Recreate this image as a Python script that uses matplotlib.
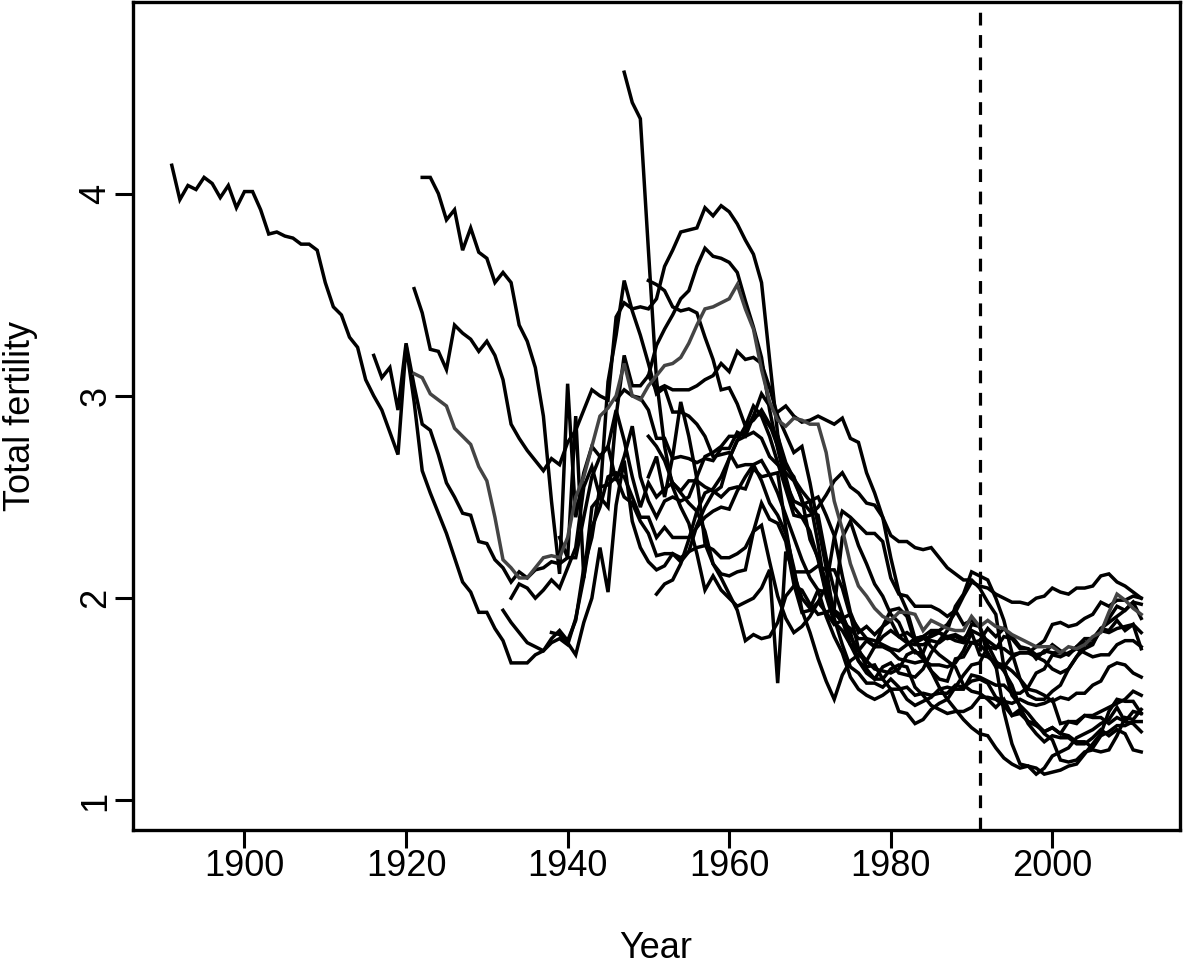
import numpy as np
import matplotlib
matplotlib.use("Agg")
import matplotlib.pyplot as plt

plt.rcParams['font.family'] = ['Liberation Sans', 'DejaVu Sans']

# total fertility, one list per country, annual values from its start year
sweden_start = 1891
sweden = [4.14, 3.97, 4.04, 4.02, 4.08, 4.05, 3.98, 4.04, 3.93, 4.01,
          4.01, 3.92, 3.80, 3.81, 3.79, 3.78, 3.75, 3.75, 3.72, 3.56,
          3.44, 3.40, 3.29, 3.24, 3.08, 3.00, 2.93, 2.82, 2.71, 3.25,
          2.97, 2.63, 2.52, 2.42, 2.32, 2.20, 2.08, 2.03, 1.93, 1.93,
          1.85, 1.79, 1.68, 1.68, 1.68, 1.72, 1.74, 1.80, 1.84, 1.79,
          1.89, 2.15, 2.30, 2.55, 2.56, 2.60, 2.50, 2.47, 2.38, 2.32,
          2.21, 2.22, 2.22, 2.18, 2.23, 2.25, 2.26, 2.24, 2.20, 2.20,
          2.22, 2.25, 2.33, 2.47, 2.39, 2.37, 2.28, 2.07, 1.93, 1.94,
          1.98, 1.93, 1.87, 1.89, 1.77, 1.69, 1.65, 1.60, 1.66, 1.68,
          1.63, 1.62, 1.61, 1.65, 1.73, 1.79, 1.84, 1.96, 2.02, 2.13,
          2.11, 2.09, 2.00, 1.89, 1.73, 1.60, 1.52, 1.50, 1.50, 1.54,
          1.57, 1.65, 1.71, 1.75, 1.77, 1.85, 1.88, 1.91, 1.94, 1.98, 1.90]

denmark_start = 1916
denmark = [3.20, 3.09, 3.14, 2.93, 3.26,
           3.05, 2.86, 2.83, 2.71, 2.57, 2.50, 2.42, 2.41, 2.28, 2.27,
           2.19, 2.15, 2.08, 2.13, 2.10, 2.14, 2.15, 2.18, 2.17, 2.20,
           2.20, 2.40, 2.60, 2.70, 2.75, 2.93, 2.78, 2.60, 2.45, 2.57,
           2.50, 2.54, 2.57, 2.53, 2.58, 2.58, 2.55, 2.53, 2.50, 2.54,
           2.55, 2.54, 2.64, 2.60, 2.61, 2.62, 2.35, 2.12, 2.00, 1.95,
           2.04, 2.03, 1.92, 1.90, 1.92, 1.75, 1.66, 1.67, 1.60, 1.55,
           1.44, 1.43, 1.38, 1.40, 1.45, 1.48, 1.50, 1.56, 1.62, 1.67,
           1.68, 1.76, 1.75, 1.81, 1.80, 1.75, 1.75, 1.72, 1.73, 1.77,
           1.74, 1.72, 1.76, 1.78, 1.80, 1.85, 1.84, 1.89, 1.84, 1.87, 1.75]

canada_start = 1921
canada = [3.53, 3.41, 3.23, 3.22, 3.13, 3.35, 3.31, 3.28, 3.22, 3.27,
          3.20, 3.08, 2.86, 2.79, 2.73, 2.68, 2.63, 2.69, 2.66, 2.77,
          2.83, 2.93, 3.03, 3.00, 2.98, 3.39, 3.46, 3.43, 3.44, 3.43,
          3.48, 3.64, 3.72, 3.81, 3.82, 3.83, 3.93, 3.89, 3.94, 3.91,
          3.85, 3.77, 3.70, 3.56, 3.18, 2.81, 2.60, 2.45, 2.40, 2.33,
          2.19, 2.02, 1.93, 1.88, 1.85, 1.80, 1.80, 1.76, 1.76, 1.74,
          1.70, 1.69, 1.68, 1.69, 1.67, 1.67, 1.66, 1.68, 1.74, 1.83,
          1.72, 1.71, 1.68, 1.67, 1.64, 1.60, 1.55, 1.54, 1.52, 1.49,
          1.51, 1.50, 1.53, 1.53, 1.57, 1.59, 1.66, 1.68, 1.67, 1.63, 1.61]

australia_start = 1921
australia = [3.11, 3.09, 3.01, 2.98, 2.95, 2.84, 2.80, 2.76, 2.65, 2.58,
             2.40, 2.19, 2.15, 2.10, 2.10, 2.15, 2.20, 2.21, 2.20, 2.30,
             2.50, 2.60, 2.75, 2.90, 2.94, 3.00, 3.16, 3.00, 2.98, 3.05,
             3.10, 3.15, 3.16, 3.19, 3.26, 3.35, 3.43, 3.44, 3.46, 3.48,
             3.55, 3.43, 3.33, 3.13, 2.97, 2.88, 2.85, 2.89, 2.88, 2.86,
             2.86, 2.72, 2.48, 2.34, 2.17, 2.06, 2.01, 1.95, 1.91, 1.89,
             1.93, 1.93, 1.92, 1.84, 1.89, 1.87, 1.85, 1.84, 1.84, 1.91,
             1.86, 1.89, 1.86, 1.85, 1.82, 1.80, 1.78, 1.76, 1.76, 1.76,
             1.73, 1.76, 1.75, 1.77, 1.81, 1.83, 1.93, 2.02, 1.99, 1.95, 1.92]

spain_start = 1922
spain = [4.08, 4.08, 4.00, 3.87, 3.92, 3.72, 3.83, 3.71, 3.68,
         3.56, 3.61, 3.56, 3.35, 3.27, 3.14, 2.90, 2.48, 2.12, 3.06,
         2.40, 2.62, 2.75, 2.70, 2.75, 2.58, 2.70, 2.85, 2.60, 2.48,
         2.40, 2.48, 2.50, 2.48, 2.50, 2.60, 2.70, 2.72, 2.75, 2.80,
         2.80, 2.82, 2.90, 3.01, 2.95, 2.92, 2.95, 2.90, 2.87, 2.88,
         2.90, 2.88, 2.86, 2.89, 2.79, 2.77, 2.62, 2.52, 2.40, 2.20,
         2.03, 1.94, 1.80, 1.72, 1.64, 1.56, 1.50, 1.45, 1.40, 1.36,
         1.33, 1.32, 1.26, 1.21, 1.18, 1.16, 1.17, 1.13, 1.16, 1.22,
         1.24, 1.26, 1.31, 1.33, 1.35, 1.38, 1.40, 1.46, 1.39, 1.38, 1.34]

switzerland_start = 1932
switzerland = [1.94, 1.88, 1.83, 1.78, 1.76, 1.74, 1.78, 1.80, 1.77,
               1.90, 2.10, 2.35, 2.45, 2.60, 2.62, 2.60, 2.50, 2.40, 2.40,
               2.30, 2.35, 2.30, 2.30, 2.30, 2.35, 2.40, 2.43, 2.45, 2.44,
               2.53, 2.60, 2.66, 2.68, 2.61, 2.52, 2.41, 2.30, 2.19, 2.10,
               2.04, 1.91, 1.81, 1.73, 1.61, 1.55, 1.52, 1.50, 1.52, 1.55,
               1.55, 1.56, 1.52, 1.53, 1.52, 1.53, 1.53, 1.57, 1.56, 1.59,
               1.60, 1.58, 1.51, 1.49, 1.48, 1.50, 1.48, 1.47, 1.48, 1.50,
               1.38, 1.39, 1.39, 1.42, 1.42, 1.44, 1.46, 1.48, 1.50, 1.54, 1.52]

usa_start = 1933
usa = [2.00, 2.07, 2.05, 2.00, 2.04, 2.09, 2.05, 2.15,
       2.25, 2.55, 2.65, 2.50, 2.45, 2.90, 3.20, 3.05, 3.05, 3.10,
       3.25, 3.33, 3.40, 3.48, 3.52, 3.64, 3.73, 3.69, 3.68, 3.66,
       3.61, 3.47, 3.34, 3.19, 2.93, 2.74, 2.57, 2.48, 2.46, 2.48,
       2.27, 2.01, 1.88, 1.84, 1.77, 1.74, 1.79, 1.76, 1.81, 1.84,
       1.81, 1.83, 1.80, 1.81, 1.84, 1.84, 1.87, 1.93, 2.01, 2.08,
       2.06, 2.05, 2.02, 2.00, 1.98, 1.98, 1.97, 2.00, 2.01, 2.05,
       2.03, 2.02, 2.05, 2.05, 2.06, 2.11, 2.12, 2.08, 2.06, 2.03, 2.00]

england_start = 1938
england = [1.83, 1.82, 1.78,
           1.72, 1.88, 2.00, 2.25, 2.03, 2.46, 2.68, 2.38, 2.25, 2.18,
           2.14, 2.16, 2.22, 2.20, 2.23, 2.36, 2.45, 2.52, 2.55, 2.69,
           2.78, 2.85, 2.88, 2.93, 2.86, 2.75, 2.65, 2.60, 2.48, 2.43,
           2.41, 2.20, 2.04, 1.92, 1.81, 1.74, 1.69, 1.76, 1.86, 1.89,
           1.81, 1.78, 1.77, 1.77, 1.79, 1.78, 1.81, 1.82, 1.80, 1.84,
           1.82, 1.79, 1.76, 1.75, 1.72, 1.73, 1.73, 1.71, 1.69, 1.65,
           1.63, 1.65, 1.71, 1.77, 1.78, 1.84, 1.90, 1.96, 1.94, 1.98, 1.97]

finland_start = 1939
finland = [2.30, 2.20,
           2.90, 2.10, 2.45, 2.50, 3.07, 3.30, 3.57, 3.42, 3.30, 3.16,
           3.01, 3.04, 2.92, 2.92, 2.90, 2.86, 2.80, 2.70, 2.71, 2.72,
           2.65, 2.66, 2.66, 2.58, 2.47, 2.41, 2.32, 2.15, 1.94, 1.83,
           1.70, 1.59, 1.50, 1.62, 1.69, 1.72, 1.69, 1.65, 1.64, 1.63,
           1.65, 1.72, 1.74, 1.70, 1.64, 1.60, 1.59, 1.70, 1.71, 1.78,
           1.79, 1.85, 1.81, 1.85, 1.81, 1.76, 1.75, 1.70, 1.74, 1.73,
           1.73, 1.72, 1.76, 1.80, 1.80, 1.84, 1.83, 1.85, 1.86, 1.87, 1.83]

france_start = 1946
france = [2.98, 3.03, 3.00, 2.99, 2.93,
          2.79, 2.79, 2.69, 2.70, 2.69, 2.67, 2.69, 2.68, 2.74, 2.74,
          2.82, 2.80, 2.90, 2.91, 2.85, 2.80, 2.67, 2.59, 2.53, 2.48,
          2.50, 2.41, 2.31, 2.11, 1.93, 1.83, 1.86, 1.82, 1.86, 1.94,
          1.95, 1.91, 1.78, 1.80, 1.81, 1.83, 1.80, 1.81, 1.79, 1.78,
          1.77, 1.73, 1.66, 1.66, 1.71, 1.73, 1.73, 1.76, 1.79, 1.87,
          1.88, 1.86, 1.87, 1.90, 1.92, 1.98, 1.96, 1.99, 1.99, 2.01, 2.00]

japan_start = 1947
japan = [4.60, 4.45, 4.37, 3.72,
         3.08, 2.75, 2.55, 2.45, 2.37, 2.22, 2.04, 2.11, 2.04, 2.00,
         1.96, 1.98, 2.00, 2.05, 2.14, 1.58, 2.23, 2.13, 2.13, 2.13,
         2.16, 2.14, 2.14, 2.05, 1.91, 1.85, 1.80, 1.79, 1.77, 1.75,
         1.74, 1.77, 1.80, 1.81, 1.76, 1.72, 1.69, 1.66, 1.57, 1.54,
         1.53, 1.50, 1.46, 1.50, 1.42, 1.43, 1.39, 1.38, 1.34, 1.36,
         1.33, 1.32, 1.29, 1.29, 1.26, 1.32, 1.34, 1.37, 1.37, 1.39, 1.39]

netherlands_start = 1950
netherlands = [3.10,
               3.03, 3.05, 3.03, 3.03, 3.03, 3.05, 3.08, 3.10, 3.16, 3.12,
               3.22, 3.18, 3.19, 3.16, 3.04, 2.90, 2.81, 2.72, 2.75, 2.57,
               2.36, 2.15, 1.90, 1.77, 1.66, 1.63, 1.58, 1.58, 1.56, 1.60,
               1.56, 1.50, 1.47, 1.49, 1.51, 1.55, 1.56, 1.55, 1.55, 1.62,
               1.61, 1.59, 1.57, 1.57, 1.53, 1.53, 1.56, 1.63, 1.65, 1.72,
               1.71, 1.73, 1.75, 1.73, 1.71, 1.72, 1.72, 1.77, 1.79, 1.79, 1.76]

czech_start = 1950
czech = [2.80,
         2.75, 2.68, 2.57, 2.52, 2.47, 2.43, 2.33, 2.17, 2.12, 2.11,
         2.13, 2.14, 2.33, 2.36, 2.18, 2.01, 1.90, 1.83, 1.86, 1.91,
         1.98, 2.06, 2.30, 2.43, 2.40, 2.36, 2.32, 2.32, 2.28, 2.10,
         2.02, 2.01, 1.96, 1.96, 1.96, 1.94, 1.91, 1.94, 1.87, 1.89,
         1.86, 1.72, 1.67, 1.44, 1.28, 1.18, 1.17, 1.16, 1.13, 1.14,
         1.15, 1.17, 1.18, 1.23, 1.28, 1.33, 1.44, 1.50, 1.49, 1.49, 1.43]

hungary_start = 1950
hungary = [2.60,
           2.70, 2.50, 2.70, 2.97, 2.80, 2.59, 2.27, 2.17, 2.10, 2.02,
           1.94, 1.79, 1.82, 1.80, 1.81, 1.88, 2.01, 2.06, 2.04, 1.97,
           1.92, 1.93, 1.95, 2.30, 2.38, 2.26, 2.17, 2.07, 2.01, 1.92,
           1.88, 1.79, 1.73, 1.73, 1.83, 1.83, 1.81, 1.79, 1.78, 1.87,
           1.86, 1.77, 1.69, 1.64, 1.57, 1.46, 1.38, 1.33, 1.29, 1.32,
           1.31, 1.31, 1.28, 1.28, 1.31, 1.35, 1.32, 1.35, 1.33, 1.25, 1.24]

austria_start = 1951
austria = [2.02, 2.07, 2.09, 2.17, 2.29, 2.43, 2.52, 2.54, 2.60, 2.69,
           2.78, 2.80, 2.82, 2.79, 2.70, 2.66, 2.62, 2.58, 2.49, 2.29,
           2.20, 2.08, 1.94, 1.91, 1.83, 1.69, 1.63, 1.60, 1.60, 1.65,
           1.67, 1.66, 1.56, 1.52, 1.47, 1.45, 1.43, 1.44, 1.44, 1.46,
           1.51, 1.51, 1.50, 1.47, 1.42, 1.45, 1.39, 1.37, 1.34, 1.36,
           1.33, 1.39, 1.38, 1.42, 1.41, 1.41, 1.38, 1.41, 1.39, 1.44, 1.43]

slovakia_start = 1950
slovakia = [3.57,
            3.55, 3.52, 3.44, 3.42, 3.43, 3.41, 3.29, 3.18, 3.03, 3.04,
            2.96, 2.85, 2.95, 2.90, 2.80, 2.67, 2.54, 2.41, 2.40, 2.41,
            2.45, 2.51, 2.58, 2.62, 2.55, 2.52, 2.47, 2.46, 2.40, 2.31,
            2.28, 2.28, 2.25, 2.24, 2.25, 2.20, 2.15, 2.12, 2.09, 2.09,
            2.05, 1.98, 1.92, 1.66, 1.52, 1.47, 1.43, 1.38, 1.33, 1.30,
            1.20, 1.19, 1.20, 1.24, 1.25, 1.24, 1.25, 1.32, 1.41, 1.40, 1.45]

jump_off = 1991

series = [
    (sweden_start, sweden, 'black'),
    (denmark_start, denmark, 'black'),
    (canada_start, canada, 'black'),
    (spain_start, spain, 'black'),
    (switzerland_start, switzerland, 'black'),
    (usa_start, usa, 'black'),
    (england_start, england, 'black'),
    (finland_start, finland, 'black'),
    (france_start, france, 'black'),
    (japan_start, japan, 'black'),
    (netherlands_start, netherlands, 'black'),
    (czech_start, czech, 'black'),
    (hungary_start, hungary, 'black'),
    (austria_start, austria, 'black'),
    (slovakia_start, slovakia, 'black'),
    (australia_start, australia, '#444444'),
]

fig = plt.figure(figsize=(11.83, 9.65), dpi=100)
ax = fig.add_axes([133 / 1183, 1 - 830 / 965, (1180 - 133) / 1183, (830 - 2) / 965])

for start, vals, col in series:
    yrs = np.arange(start, start + len(vals))
    ax.plot(yrs, vals, color=col, lw=2.5, solid_joinstyle='miter')

ax.axvline(jump_off, color='black', lw=2.3, linestyle=(0, (4, 3)))

ax.set_xlim(1886.2, 2015.8)
ax.set_ylim(0.854, 4.947)
ax.set_xticks([1900, 1920, 1940, 1960, 1980, 2000])
ax.set_yticks([1, 2, 3, 4])
ax.tick_params(axis='both', direction='out', length=13, width=2.2, labelsize=26, pad=1)
for lab in ax.get_yticklabels():
    lab.set_rotation(90)
    lab.set_va('center')
for sp in ax.spines.values():
    sp.set_linewidth(2.4)

fig.text(656 / 1183, 1 - 948 / 965, 'Year', ha='center', va='center', fontsize=26)
fig.text(20 / 1183, 1 - 416 / 965, 'Total fertility', ha='center', va='center',
         rotation=90, fontsize=26)

plt.savefig('out.png', dpi=100)
